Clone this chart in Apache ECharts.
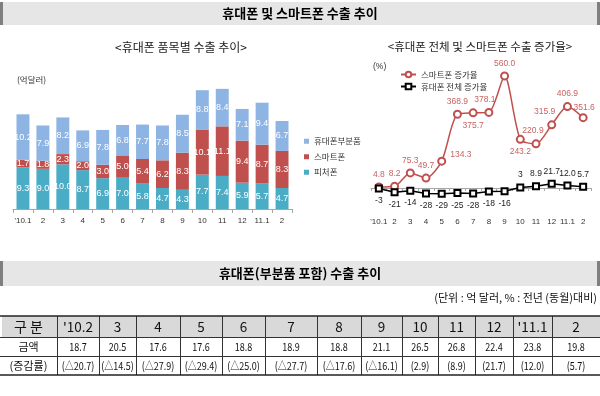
<!DOCTYPE html>
<html><head><meta charset="utf-8">
<script src="https://cdn.jsdelivr.net/npm/echarts@6/dist/echarts.min.js"></script>
<style>html,body{margin:0;padding:0;background:#fff}#c{width:600px;height:396px}</style>
</head><body><div id="c"></div>
<script>
// ---- data ----
const categories = ["'10.1","2","3","4","5","6","7","8","9","10","11","12","11.1","2"];
const featurePhone = [9.3,9.0,10.0,8.7,6.9,7.0,5.8,4.7,4.3,7.7,7.4,5.9,5.7,4.7];
const smartPhone = [1.7,1.8,2.3,2.0,3.0,5.0,5.4,6.2,8.3,10.1,11.1,9.4,8.7,8.3];
const phoneParts = [10.2,7.9,8.2,6.9,7.8,6.8,7.7,7.8,8.5,8.8,8.4,7.1,9.4,6.7];
const totalExport = [21.2,18.7,20.5,17.6,17.6,18.8,18.9,18.8,21.1,26.5,26.8,22.4,23.8,19.8];
const smartGrowth = [4.8,8.2,75.3,49.7,134.3,368.9,375.7,378.1,560.0,243.2,220.9,315.9,406.9,351.6];
const totalGrowth = [-3,-21,-14,-28,-29,-25,-28,-18,-16,3,8.9,21.7,12.0,5.7];
const totalGrowthLabels = ["-3","-21","-14","-28","-29","-25","-28","-18","-16","3","8.9","21.7","12.0","5.7"];
const tableHeader = ["구 분","'10.2","3","4","5","6","7","8","9","10","11","12","'11.1","2"];
const tableAmount = [18.7,20.5,17.6,17.6,18.8,18.9,18.8,21.1,26.5,26.8,22.4,23.8,19.8];
const tableGrowth = [-20.7,-14.5,-27.9,-29.4,-25.0,-27.7,-17.6,-16.1,2.9,8.9,21.7,12.0,5.7];

// ---- styles / layout ----
const FONT = "'Liberation Sans','Noto Sans CJK KR',sans-serif";
const KFONT = "'Noto Sans CJK KR',sans-serif";
const C_PARTS = '#8DB4E2', C_SMART = '#C0504D', C_FEAT = '#4BACC6';

const smartLabelPos = [
  {position:'top'},{position:'top'},{position:'top'},{position:'top'},
  {position:'right', offset:[0,-6]},{position:'top'},{position:'bottom'},
  {position:'top', offset:[-4,0]},{position:'top'},{position:'bottom'},
  {position:'top', offset:[-3,0]},{position:'top', offset:[-7,0]},
  {position:'top'},{position:'top', offset:[1,3]}
];

const graphics = [];
function header(y0, y1, text) {
  graphics.push({type:'rect', shape:{x:0,y:y0,width:600,height:y1-y0}, style:{fill:'#E6E6E6'}});
  graphics.push({type:'rect', shape:{x:0,y:y0,width:3,height:y1-y0}, style:{fill:'#7F7F7F'}});
  graphics.push({type:'rect', shape:{x:597,y:y0,width:3,height:y1-y0}, style:{fill:'#7F7F7F'}});
  graphics.push({type:'text', x:300, y:(y0+y1)/2, style:{text:text, fill:'#000', font:"bold 13px "+KFONT, align:'center', verticalAlign:'middle'}});
}
header(2, 25, '휴대폰 및 스마트폰 수출 추이');
header(261, 286, '휴대폰(부분품 포함) 수출 추이');
graphics.push({type:'text', x:181, y:47, style:{text:'<휴대폰 품목별 수출 추이>', fill:'#222', font:"12px "+KFONT, align:'center', verticalAlign:'middle'}});
graphics.push({type:'text', x:480, y:47, style:{text:'<휴대폰 전체 및 스마트폰 수출 증가율>', fill:'#222', font:"11.5px "+KFONT, align:'center', verticalAlign:'middle'}});
graphics.push({type:'text', x:17, y:80, style:{text:'(억달러)', fill:'#333', font:"8.5px "+KFONT, verticalAlign:'middle'}});
graphics.push({type:'text', x:373, y:67, style:{text:'(%)', fill:'#333', font:"8.5px "+FONT, verticalAlign:'middle'}});
graphics.push({type:'text', x:597, y:298, style:{text:'(단위 : 억 달러, % : 전년 (동월)대비)', fill:'#111', font:"11px "+KFONT, align:'right', verticalAlign:'middle'}});

// table
const colX = [0,57,99,136,180,222,265,317,361,402,438,475,513,552,600];
const rowY = [316,337,356,375];
graphics.push({type:'rect', shape:{x:2,y:rowY[0],width:598,height:rowY[1]-rowY[0]}, style:{fill:'#D9D9D9'}});
const rows = [
  tableHeader,
  ['금액'].concat(tableAmount.map(v=>v.toFixed(1))),
  ['(증감률)'].concat(tableGrowth.map(v=> v<0 ? '(△'+Math.abs(v).toFixed(1)+')' : '('+v.toFixed(1)+')'))
];
rows.forEach((r, ri) => {
  r.forEach((t, ci) => {
    const cx = (colX[ci]+colX[ci+1])/2, cy = (rowY[ri]+rowY[ri+1])/2;
    const size = ri===0 ? (ci===0 ? 14 : 13.5) : 11;
    const sx = (ri>0 && ci>0) ? 0.82 : 1;
    graphics.push({type:'text', x:cx, y:cy+0.5, scaleX:sx, style:{text:t, fill:'#111', font:size+"px "+KFONT, align:'center', verticalAlign:'middle'}});
  });
});
for (let i=1;i<colX.length-1;i++) {
  graphics.push({type:'line', shape:{x1:colX[i]+0.5,y1:rowY[0],x2:colX[i]+0.5,y2:rowY[3]}, style:{stroke:'#333',lineWidth:1}});
}
graphics.push({type:'line', shape:{x1:0,y1:rowY[0],x2:600,y2:rowY[0]}, style:{stroke:'#222',lineWidth:1.5}});
graphics.push({type:'line', shape:{x1:0,y1:rowY[1]+0.5,x2:600,y2:rowY[1]+0.5}, style:{stroke:'#333',lineWidth:1}});
graphics.push({type:'line', shape:{x1:0,y1:rowY[2]+0.5,x2:600,y2:rowY[2]+0.5}, style:{stroke:'#333',lineWidth:1}});
graphics.push({type:'line', shape:{x1:0,y1:rowY[3],x2:600,y2:rowY[3]}, style:{stroke:'#222',lineWidth:1.5}});

const insideLabel = {show:true, position:'inside', color:'#fff', fontSize:9, fontFamily:FONT, formatter:p=>p.value.toFixed(1)};

const option = {
  animation:false,
  textStyle:{fontFamily:FONT},
  grid:[
    {left:13, top:75, width:279, height:134},
    {left:371, top:68, width:220, height:128}
  ],
  xAxis:[
    {gridIndex:0, type:'category', data:categories,
     axisLine:{lineStyle:{color:'#A6A6A6'}}, axisTick:{show:true, length:4, lineStyle:{color:'#A6A6A6'}},
     axisLabel:{fontSize:8, color:'#333', margin:8, interval:0}},
    {gridIndex:1, type:'category', data:categories,
     axisLine:{onZero:true, lineStyle:{color:'#A6A6A6'}}, axisTick:{show:true, length:3, lineStyle:{color:'#A6A6A6'}},
     axisLabel:{fontSize:8, color:'#333', margin:22, interval:0}}
  ],
  yAxis:[
    {gridIndex:0, type:'value', min:0, max:30, show:false},
    {gridIndex:1, type:'value', min:-40, max:600, show:false}
  ],
  legend:[
    {data:['휴대폰부분품','스마트폰','피처폰'], orient:'vertical', left:299, top:131,
     itemWidth:5, itemHeight:5, itemGap:5, icon:'rect',
     textStyle:{fontSize:8.5, color:'#333', fontFamily:KFONT, lineHeight:10.5}},
    {data:['스마트폰 증가율','휴대폰 전체 증가율'], orient:'vertical', left:395, top:65,
     itemWidth:15, itemHeight:7, itemGap:3,
     textStyle:{fontSize:8.5, color:'#333', fontFamily:KFONT, lineHeight:9}}
  ],
  graphic: graphics,
  series:[
    {name:'피처폰', type:'bar', stack:'a', xAxisIndex:0, yAxisIndex:0, data:featurePhone,
     barWidth:'65%', itemStyle:{color:C_FEAT}, label:insideLabel},
    {name:'스마트폰', type:'bar', stack:'a', xAxisIndex:0, yAxisIndex:0, data:smartPhone,
     itemStyle:{color:C_SMART}, label:insideLabel},
    {name:'휴대폰부분품', type:'bar', stack:'a', xAxisIndex:0, yAxisIndex:0, data:phoneParts,
     itemStyle:{color:C_PARTS}, label:insideLabel},
    {name:'합계', type:'scatter', xAxisIndex:0, yAxisIndex:0, data:totalExport,
     symbolSize:1, itemStyle:{opacity:0},
     label:{show:true, position:'top', distance:3, color:'#222', fontSize:9, formatter:p=>p.value.toFixed(1)}},
    {name:'스마트폰 증가율', type:'line', xAxisIndex:1, yAxisIndex:1,
     data:smartGrowth.map((v,i)=>({value:v, label:smartLabelPos[i]})),
     smooth:0.25, symbol:'emptyCircle', symbolSize:7,
     lineStyle:{color:C_SMART, width:1.5}, itemStyle:{color:C_SMART, borderWidth:1.3},
     label:{show:true, color:'#C96362', fontSize:8.5, distance:4, formatter:p=>p.value.toFixed(1)}},
    {name:'휴대폰 전체 증가율', type:'line', xAxisIndex:1, yAxisIndex:1,
     data:totalGrowth.map((v,i)=>({value:v, label:{position: v<0?'bottom':'top'}})),
     symbol:'emptyRect', symbolSize:6,
     lineStyle:{color:'#000', width:1.5}, itemStyle:{color:'#000', borderWidth:1.3},
     label:{show:true, color:'#222', fontSize:8.5, distance:4, formatter:p=>totalGrowthLabels[p.dataIndex]}}
  ]
};
echarts.init(document.getElementById('c'), null, {renderer:'canvas'}).setOption(option);
</script></body></html>
